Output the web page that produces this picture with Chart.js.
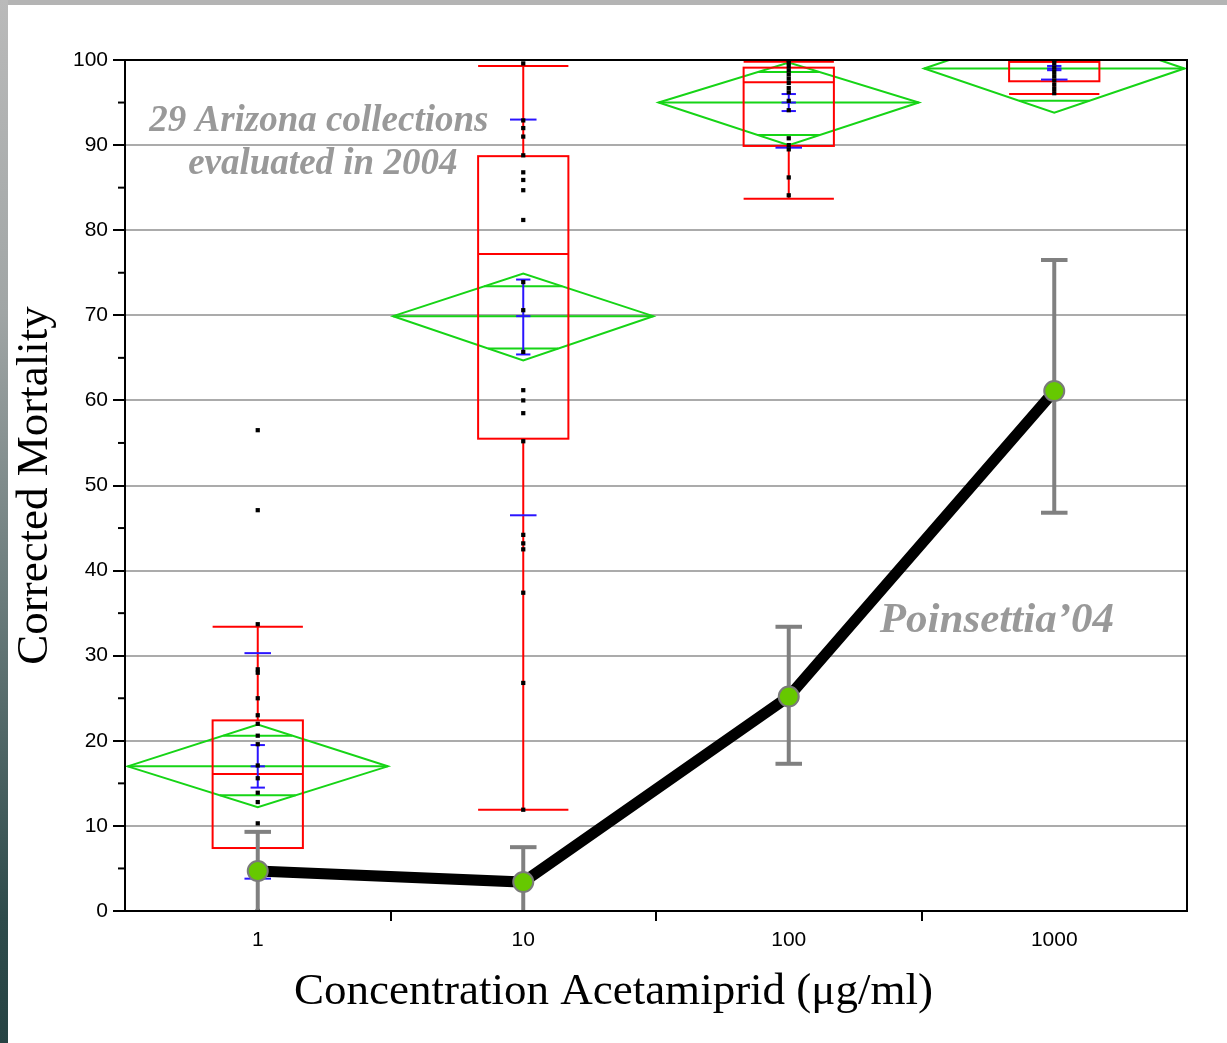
<!DOCTYPE html>
<html>
<head>
<meta charset="utf-8">
<title>Corrected Mortality - Acetamiprid</title>
<script src="https://cdn.jsdelivr.net/npm/chart.js@4.4.1/dist/chart.umd.min.js"></script>
<style>
  html, body { margin: 0; padding: 0; background: #fff; }
  body { width: 1227px; height: 1043px; position: relative; overflow: hidden; }
  .frame-top { position: absolute; left: 0; top: 0; width: 1227px; height: 5px; background: #b4b4b4; }
  .frame-left { position: absolute; left: 0; top: 0; width: 8px; height: 1043px;
    background: linear-gradient(#bababa 0%, #a0a5a5 30%, #657777 60%, #2e4b4b 88%, #264343 100%); }
  #chart { position: absolute; left: 0; top: 0; }
</style>
</head>
<body>
<div class="frame-top"></div>
<div class="frame-left"></div>
<canvas id="chart" width="1227" height="1043"></canvas>
<script>
// x categories (log10 concentration)
const concLabels = ['1', '10', '100', '1000'];

// quantile boxes, 29 Arizona collections
const boxWhiskLow = [0, 11.9, 83.7, 96.0];
const boxQ1 = [7.4, 55.5, 89.9, 97.5];
const boxMedian = [16.1, 77.2, 97.4, 99.8];
const boxQ3 = [22.4, 88.7, 99.1, 99.8];
const boxWhiskHigh = [33.4, 99.3, 99.8, 100];

// means diamonds
const diaMean = [17.0, 69.9, 95.0, 99.0];
const diaTop = [21.9, 74.9, 99.7, 104.2];
const diaBottom = [12.2, 64.7, 90.0, 93.8];
const diaOverlapHigh = [20.6, 73.4, 98.6, 102.8];
const diaOverlapLow = [13.6, 66.1, 91.2, 95.2];

// blue std dev / std err marks
const sdHigh = [30.3, 93.0, 100.2, 100.2];
const sdLow = [3.8, 46.5, 89.7, 97.7];
const seHigh = [19.5, 74.2, 96.0, 99.3];
const seLow = [14.5, 65.4, 94.0, 98.8];

// individual collections
const pts1 = [0, 10.3, 12.8, 13.9, 15.6, 17.1, 19.6, 20.6, 22.0, 23.0, 25.0, 28.0, 28.4, 33.7, 47.1, 56.5];
const pts10 = [11.9, 26.8, 37.4, 42.5, 43.2, 44.2, 55.2, 58.5, 60.0, 61.2, 65.7, 70.6, 73.9, 81.2, 84.7, 85.9, 86.8, 88.8, 91.0, 92.0, 92.9, 99.6];
const pts100 = [84.1, 86.2, 89.5, 90.0, 90.8, 94.1, 95.2, 96.2, 96.7, 97.3, 97.8, 98.3, 98.8, 99.3, 99.7, 100];
const pts1000 = [96.1, 96.6, 97.1, 97.6, 98.1, 98.6, 99.1, 99.6, 100];

// Poinsettia '04 reference line
const poinsMean = [4.7, 3.4, 25.2, 61.1];
const poinsHigh = [9.3, 7.5, 33.4, 76.5];
const poinsLow = [0, 0, 17.3, 46.8];

// widths in x-axis units (one category = 1)
const DIAMOND_HALF = 0.49;
const BOX_HALF = 0.17;
const SD_CAP = 0.05;
const SE_CAP = 0.027;
const ERR_CAP = 0.05;

const RED = '#ff0000', GREEN = '#16d416', BLUE = '#2a14ff', GRAY_TXT = '#999999';

Chart.defaults.font.family = '"Liberation Sans", Arial, sans-serif';

function hline(ctx, x0, x1, y) {
    ctx.beginPath();
    ctx.moveTo(x0, y);
    ctx.lineTo(x1, y);
    ctx.stroke();
}
function vline(ctx, x, y0, y1) {
    ctx.beginPath();
    ctx.moveTo(x, y0);
    ctx.lineTo(x, y1);
    ctx.stroke();
}

const jmpBoxes = {
    id: 'jmpBoxes',
    beforeDatasetsDraw(chart) {
        const { ctx, chartArea: a, scales: { x, y } } = chart;

        // text notes
        ctx.save();
        ctx.fillStyle = GRAY_TXT;
        ctx.textAlign = 'center';
        ctx.textBaseline = 'alphabetic';
        ctx.font = 'italic bold 37px "Liberation Serif", serif';
        ctx.fillText('29 Arizona collections', x.getPixelForValue(0.73), y.getPixelForValue(91.6));
        ctx.fillText('evaluated in 2004', x.getPixelForValue(0.745), y.getPixelForValue(86.6));
        ctx.font = 'italic bold 43px "Liberation Serif", serif';
        ctx.fillText('Poinsettia\u201904', x.getPixelForValue(3.284), y.getPixelForValue(32.8));
        ctx.restore();

        ctx.save();
        ctx.beginPath();
        ctx.rect(a.left, a.top, a.right - a.left, a.bottom - a.top + 3);
        ctx.clip();
        ctx.lineWidth = 2;

        concLabels.forEach((_, i) => {
            const c = i + 0.5;
            const cx = x.getPixelForValue(c);
            const dx = w => x.getPixelForValue(c + w) - cx;
            const py = v => y.getPixelForValue(v);

            // means diamond
            const hw = dx(DIAMOND_HALF);
            const ym = py(diaMean[i]), yt = py(diaTop[i]), yb = py(diaBottom[i]);
            ctx.strokeStyle = GREEN;
            ctx.beginPath();
            ctx.moveTo(cx - hw, ym);
            ctx.lineTo(cx, yt);
            ctx.lineTo(cx + hw, ym);
            ctx.lineTo(cx, yb);
            ctx.closePath();
            ctx.stroke();
            hline(ctx, cx - hw, cx + hw, ym);
            [[diaOverlapHigh[i], yt], [diaOverlapLow[i], yb]].forEach(([v, edge]) => {
                const yo = py(v);
                const w = hw * (1 - (yo - ym) / (edge - ym));
                hline(ctx, cx - w, cx + w, yo);
            });

            // quantile box
            const bw = dx(BOX_HALF);
            const q1 = py(boxQ1[i]), q3 = py(boxQ3[i]);
            ctx.strokeStyle = RED;
            ctx.strokeRect(cx - bw, q3, 2 * bw, q1 - q3);
            hline(ctx, cx - bw, cx + bw, py(boxMedian[i]));
            vline(ctx, cx, q1, py(boxWhiskLow[i]));
            vline(ctx, cx, q3, py(boxWhiskHigh[i]));
            hline(ctx, cx - bw, cx + bw, py(boxWhiskLow[i]));
            hline(ctx, cx - bw, cx + bw, py(boxWhiskHigh[i]));

            // std err bar + std dev caps
            ctx.strokeStyle = BLUE;
            const se = dx(SE_CAP), sd = dx(SD_CAP);
            vline(ctx, cx, py(seHigh[i]), py(seLow[i]));
            [seHigh[i], seLow[i], diaMean[i]].forEach(v => hline(ctx, cx - se, cx + se, py(v)));
            [sdHigh[i], sdLow[i]].forEach(v => hline(ctx, cx - sd, cx + sd, py(v)));
        });
        ctx.restore();
    },
    beforeDatasetDraw(chart, args) {
        if (chart.data.datasets[args.index].type !== 'line') return;
        const { ctx, scales: { x, y } } = chart;
        ctx.save();
        ctx.strokeStyle = '#808080';
        ctx.lineWidth = 4;
        poinsMean.forEach((_, i) => {
            const c = i + 0.5;
            const cx = x.getPixelForValue(c);
            const cap = x.getPixelForValue(c + ERR_CAP) - cx;
            vline(ctx, cx, y.getPixelForValue(poinsHigh[i]), y.getPixelForValue(poinsLow[i]));
            [poinsHigh[i], poinsLow[i]].forEach(v => {
                if (v > y.min) hline(ctx, cx - cap, cx + cap, y.getPixelForValue(v));
            });
        });
        ctx.restore();
    },
    afterDraw(chart) {
        const { ctx, chartArea: a, scales: { y } } = chart;
        ctx.save();
        ctx.strokeStyle = '#000';
        ctx.lineWidth = 2;
        ctx.strokeRect(a.left, a.top, a.right - a.left, a.bottom - a.top);
        // minor ticks
        for (let v = 5; v < 100; v += 10) {
            hline(ctx, a.left - 7, a.left, y.getPixelForValue(v));
        }
        // x axis title
        ctx.fillStyle = '#000';
        ctx.textAlign = 'center';
        ctx.textBaseline = 'alphabetic';
        ctx.font = '45px "Liberation Serif", serif';
        ctx.fillText('Concentration Acetamiprid (\u03bcg/ml)', chart.width / 2, 1004);
        ctx.restore();
    }
};

new Chart(document.getElementById('chart'), {
    type: 'scatter',
    data: {
        datasets: [
            {
                type: 'line',
                label: "Poinsettia'04",
                data: poinsMean.map((v, i) => ({ x: i + 0.5, y: v })),
                borderColor: '#000',
                borderWidth: 11,
                pointRadius: 10,
                pointBackgroundColor: '#66c800',
                pointBorderColor: '#7a7a7a',
                pointBorderWidth: 2,
                tension: 0,
                order: 0
            },
            {
                type: 'scatter',
                label: 'Collections',
                data: [pts1, pts10, pts100, pts1000].flatMap((arr, i) => arr.map(v => ({ x: i + 0.5, y: v }))),
                pointStyle: 'rect',
                pointRadius: 3,
                backgroundColor: '#000',
                borderWidth: 0,
                order: 1
            }
        ]
    },
    options: {
        responsive: false,
        animation: false,
        devicePixelRatio: 1,
        layout: { padding: { left: 8, top: 60, right: 40, bottom: 0 } },
        plugins: { legend: { display: false }, tooltip: { enabled: false } },
        scales: {
            x: {
                type: 'linear',
                min: 0,
                max: 4,
                afterFit(scale) { scale.height = 132; },
                ticks: {
                    stepSize: 0.5,
                    autoSkip: false,
                    maxRotation: 0,
                    padding: 7,
                    color: '#000',
                    font: { size: 21 },
                    callback: v => Number.isInteger(v) ? '' : concLabels[v - 0.5]
                },
                grid: {
                    drawOnChartArea: false,
                    tickLength: 10,
                    lineWidth: 2,
                    tickColor: c => [1, 2, 3].includes(c.tick && c.tick.value) ? '#000' : 'rgba(0,0,0,0)'
                },
                border: { color: '#000', width: 2 }
            },
            y: {
                min: 0,
                max: 100,
                afterFit(scale) { scale.width = 117; },
                ticks: { stepSize: 10, padding: 5, color: '#000', font: { size: 21 } },
                grid: {
                    color: c => (c.tick.value === 0 || c.tick.value === 100) ? 'rgba(0,0,0,0)' : '#ababab',
                    lineWidth: 2,
                    tickLength: 12,
                    tickColor: '#000'
                },
                border: { color: '#000', width: 2 },
                title: {
                    display: true,
                    text: 'Corrected Mortality',
                    color: '#000',
                    font: { family: '"Liberation Serif", serif', size: 45 },
                    padding: { top: 0, bottom: 0 }
                }
            }
        }
    },
    plugins: [jmpBoxes]
});
</script>
</body>
</html>
